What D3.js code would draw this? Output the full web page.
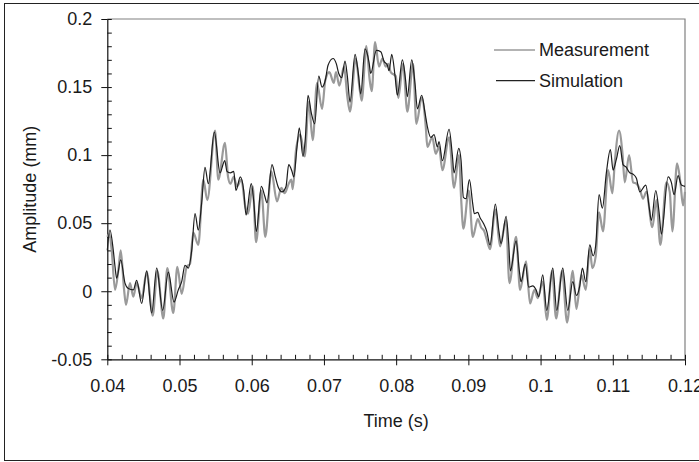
<!DOCTYPE html>
<html>
<head>
<meta charset="utf-8">
<script src="https://cdn.jsdelivr.net/npm/d3@7"></script>
<style>
  html, body { margin: 0; padding: 0; background: #fff; }
  svg { display: block; }
  text { font-family: "Liberation Sans", Arial, sans-serif; fill: #1a1a1a; }
</style>
</head>
<body>
<svg id="chart" width="699" height="462"></svg>
<script>
// Measured response (local extrema and shoulders of the trace)
const measTime = [0.04000,0.04028,0.04061,0.04107,0.04152,0.04186,0.04231,0.04259,0.04314,0.04360,0.04407,0.04476,0.04546,0.04629,0.04693,0.04776,0.04831,0.04914,0.04970,0.05030,0.05100,0.05145,0.05191,0.05260,0.05330,0.05385,0.05492,0.05537,0.05630,0.05672,0.05704,0.05751,0.05796,0.05856,0.05911,0.05949,0.06014,0.06060,0.06133,0.06188,0.06271,0.06350,0.06410,0.06457,0.06512,0.06548,0.06568,0.06614,0.06673,0.06734,0.06789,0.06845,0.06904,0.06974,0.07019,0.07075,0.07136,0.07167,0.07213,0.07278,0.07324,0.07361,0.07440,0.07496,0.07523,0.07587,0.07634,0.07662,0.07708,0.07763,0.07809,0.07856,0.07892,0.07925,0.07994,0.08030,0.08095,0.08155,0.08234,0.08280,0.08354,0.08410,0.08432,0.08501,0.08548,0.08594,0.08640,0.08733,0.08802,0.08871,0.08899,0.08931,0.09005,0.09061,0.09130,0.09176,0.09221,0.09255,0.09300,0.09374,0.09439,0.09522,0.09568,0.09661,0.09716,0.09799,0.09854,0.09914,0.09961,0.10030,0.10086,0.10159,0.10215,0.10298,0.10367,0.10446,0.10496,0.10565,0.10626,0.10681,0.10717,0.10764,0.10810,0.10865,0.10935,0.10994,0.11028,0.11087,0.11133,0.11166,0.11226,0.11281,0.11327,0.11374,0.11419,0.11465,0.11548,0.11604,0.11659,0.11742,0.11789,0.11825,0.11890,0.11936,0.11973,0.12000];
const measAmp = [0.040,0.042,0.030,0.001,0.015,0.030,0.002,-0.010,0.006,-0.004,0.006,-0.005,0.014,-0.018,0.015,-0.020,0.017,-0.016,0.018,-0.002,0.018,0.020,0.043,0.034,0.082,0.067,0.118,0.082,0.109,0.084,0.079,0.084,0.077,0.082,0.062,0.057,0.077,0.036,0.074,0.040,0.088,0.066,0.076,0.072,0.079,0.082,0.075,0.104,0.115,0.099,0.139,0.111,0.153,0.134,0.155,0.161,0.153,0.161,0.151,0.165,0.143,0.132,0.171,0.148,0.140,0.180,0.155,0.147,0.183,0.165,0.171,0.165,0.167,0.161,0.158,0.142,0.167,0.132,0.167,0.123,0.142,0.121,0.106,0.113,0.101,0.106,0.089,0.113,0.076,0.100,0.069,0.046,0.074,0.040,0.053,0.047,0.044,0.038,0.031,0.060,0.033,0.052,0.006,0.040,0.001,0.022,-0.009,0.001,-0.005,0.007,-0.021,0.015,-0.020,0.015,-0.023,0.015,-0.013,0.012,0.001,0.031,0.017,0.026,0.058,0.044,0.089,0.072,0.095,0.118,0.102,0.080,0.100,0.080,0.079,0.075,0.068,0.073,0.047,0.067,0.034,0.080,0.073,0.044,0.094,0.080,0.063,0.073];

// Simulated response
const simTime = [0.04000,0.04037,0.04083,0.04107,0.04130,0.04186,0.04245,0.04291,0.04360,0.04407,0.04476,0.04546,0.04615,0.04684,0.04767,0.04845,0.04924,0.04983,0.05030,0.05076,0.05122,0.05169,0.05215,0.05260,0.05307,0.05353,0.05399,0.05482,0.05561,0.05626,0.05658,0.05704,0.05751,0.05782,0.05842,0.05889,0.05921,0.05994,0.06028,0.06064,0.06133,0.06180,0.06212,0.06281,0.06327,0.06364,0.06420,0.06475,0.06512,0.06558,0.06582,0.06627,0.06659,0.06710,0.06742,0.06780,0.06825,0.06872,0.06928,0.06974,0.07019,0.07057,0.07126,0.07172,0.07205,0.07246,0.07292,0.07324,0.07361,0.07431,0.07476,0.07510,0.07569,0.07625,0.07648,0.07726,0.07787,0.07832,0.07878,0.07902,0.07939,0.07985,0.08017,0.08086,0.08133,0.08155,0.08216,0.08262,0.08294,0.08354,0.08400,0.08432,0.08479,0.08525,0.08571,0.08594,0.08640,0.08733,0.08778,0.08802,0.08867,0.08899,0.08931,0.08968,0.09014,0.09061,0.09083,0.09130,0.09162,0.09208,0.09255,0.09300,0.09374,0.09421,0.09453,0.09522,0.09559,0.09582,0.09661,0.09706,0.09730,0.09789,0.09836,0.09892,0.09938,0.09975,0.10030,0.10086,0.10169,0.10224,0.10307,0.10377,0.10446,0.10496,0.10543,0.10579,0.10626,0.10681,0.10727,0.10764,0.10810,0.10856,0.10911,0.10967,0.11004,0.11050,0.11097,0.11142,0.11188,0.11235,0.11281,0.11327,0.11374,0.11457,0.11503,0.11534,0.11595,0.11641,0.11673,0.11766,0.11811,0.11849,0.11904,0.11950,0.12000];
const simAmp = [0.030,0.045,0.030,0.018,0.0096,0.023,0.006,0.002,0.001,0.008,-0.009,0.015,-0.016,0.017,-0.014,0.014,-0.008,0.001,0.007,0.019,0.017,0.030,0.057,0.045,0.065,0.091,0.079,0.117,0.087,0.096,0.088,0.087,0.088,0.074,0.084,0.074,0.056,0.079,0.066,0.044,0.077,0.070,0.065,0.093,0.084,0.077,0.073,0.077,0.093,0.088,0.084,0.106,0.120,0.099,0.112,0.144,0.131,0.123,0.158,0.150,0.155,0.166,0.171,0.167,0.160,0.157,0.169,0.158,0.139,0.174,0.160,0.145,0.178,0.168,0.160,0.177,0.176,0.169,0.166,0.162,0.174,0.158,0.144,0.170,0.154,0.143,0.170,0.152,0.134,0.144,0.131,0.121,0.113,0.115,0.106,0.110,0.096,0.119,0.100,0.087,0.105,0.096,0.069,0.068,0.082,0.064,0.057,0.058,0.054,0.050,0.044,0.034,0.064,0.045,0.035,0.055,0.035,0.015,0.037,0.015,0.007,0.020,0.003,0.004,0.001,-0.004,0.012,-0.014,0.017,-0.014,0.017,-0.014,0.007,-0.003,0.004,0.017,0.007,0.034,0.026,0.034,0.071,0.061,0.087,0.104,0.089,0.097,0.107,0.093,0.091,0.087,0.086,0.083,0.073,0.078,0.062,0.052,0.074,0.058,0.042,0.084,0.080,0.071,0.085,0.078,0.077];

const xTickValues = [0.04, 0.05, 0.06, 0.07, 0.08, 0.09, 0.1, 0.11, 0.12];
const xTickLabels = ["0.04", "0.05", "0.06", "0.07", "0.08", "0.09", "0.1", "0.11", "0.12"];
const yTickValues = [-0.05, 0, 0.05, 0.1, 0.15, 0.2];
const yTickLabels = ["-0.05", "0", "0.05", "0.1", "0.15", "0.2"];
const seriesNames = ["Measurement", "Simulation"];

const svg = d3.select("#chart");
const W = 699, H = 462;
const plot = { left: 107.3, right: 685, top: 19, bottom: 359.3 };

svg.append("rect").attr("width", W).attr("height", H).attr("fill", "#fff");
// outer frame
svg.append("rect")
  .attr("x", 4.5).attr("y", 3.5).attr("width", 695).attr("height", 457)
  .attr("fill", "none").attr("stroke", "#222").attr("stroke-width", 1);

const x = d3.scaleLinear().domain([0.04, 0.12]).range([plot.left, plot.right]);
const y = d3.scaleLinear().domain([-0.05, 0.2]).range([plot.bottom, plot.top]);

// top and right plot border
svg.append("path")
  .attr("d", `M${plot.left},${plot.top}H${plot.right}V${plot.bottom}`)
  .attr("fill", "none").attr("stroke", "#808080").attr("stroke-width", 1.2);

// minor ticks (inside)
const xMinor = d3.range(0.04, 0.12001, 0.002).map(v => +v.toFixed(4));
const yMinor = d3.range(-0.05, 0.2001, 0.01).map(v => +v.toFixed(3));

const gx = svg.append("g").attr("transform", `translate(0,${plot.bottom})`);
gx.call(d3.axisBottom(x).tickValues(xMinor).tickSize(-4.5).tickFormat(""))
  .call(g => g.select(".domain").remove());
gx.append("g")
  .call(d3.axisBottom(x).tickValues(xTickValues).tickSize(6).tickSizeOuter(0)
    .tickPadding(14).tickFormat((d, i) => xTickLabels[i]))
  .call(g => g.selectAll("text").attr("font-size", 18).attr("fill", "#1a1a1a")
    .attr("font-family", "'Liberation Sans', Arial, sans-serif"));
gx.selectAll("line").attr("stroke", "#111");
gx.selectAll(".domain").attr("stroke", "#111").attr("stroke-width", 1.2);

const gy = svg.append("g").attr("transform", `translate(${plot.left},0)`);
gy.call(d3.axisLeft(y).tickValues(yMinor).tickSize(-4.5).tickFormat(""))
  .call(g => g.select(".domain").remove());
gy.append("g")
  .call(d3.axisLeft(y).tickValues(yTickValues).tickSize(6).tickSizeOuter(0)
    .tickPadding(9).tickFormat((d, i) => yTickLabels[i]))
  .call(g => g.selectAll("text").attr("font-size", 18).attr("fill", "#1a1a1a")
    .attr("font-family", "'Liberation Sans', Arial, sans-serif"));
gy.selectAll("line").attr("stroke", "#111");
gy.selectAll(".domain").attr("stroke", "#111").attr("stroke-width", 1.2);

// series
const line = d3.line()
  .x(d => x(d[0])).y(d => y(d[1]))
  .curve(d3.curveMonotoneX);

const measData = measTime.map((t, i) => [t, measAmp[i]]);
const simData = simTime.map((t, i) => [t, simAmp[i]]);

svg.append("path").datum(measData)
  .attr("d", line).attr("fill", "none")
  .attr("stroke", "#9a9a9a").attr("stroke-width", 2.2).attr("stroke-linejoin", "round");
svg.append("path").datum(simData)
  .attr("d", line).attr("fill", "none")
  .attr("stroke", "#1c1c1c").attr("stroke-width", 1.2).attr("stroke-linejoin", "round");

// legend
const legend = svg.append("g");
const legendRows = [
  { name: seriesNames[0], color: "#9a9a9a", width: 1.4, y: 50, x1: 494 },
  { name: seriesNames[1], color: "#222", width: 1.2, y: 80.7, x1: 496 }
];
legendRows.forEach(r => {
  legend.append("line").attr("x1", r.x1).attr("x2", 535)
    .attr("y1", r.y).attr("y2", r.y)
    .attr("stroke", r.color).attr("stroke-width", r.width);
  legend.append("text").attr("x", 539).attr("y", r.y + 6)
    .attr("font-size", 18).text(r.name);
});

// axis titles
svg.append("text").attr("x", x(0.08)).attr("y", 427)
  .attr("text-anchor", "middle").attr("font-size", 18).text("Time (s)");
svg.append("text")
  .attr("transform", `translate(36,${y(0.075)}) rotate(-90)`)
  .attr("text-anchor", "middle").attr("font-size", 18).text("Amplitude (mm)");
</script>
</body>
</html>
